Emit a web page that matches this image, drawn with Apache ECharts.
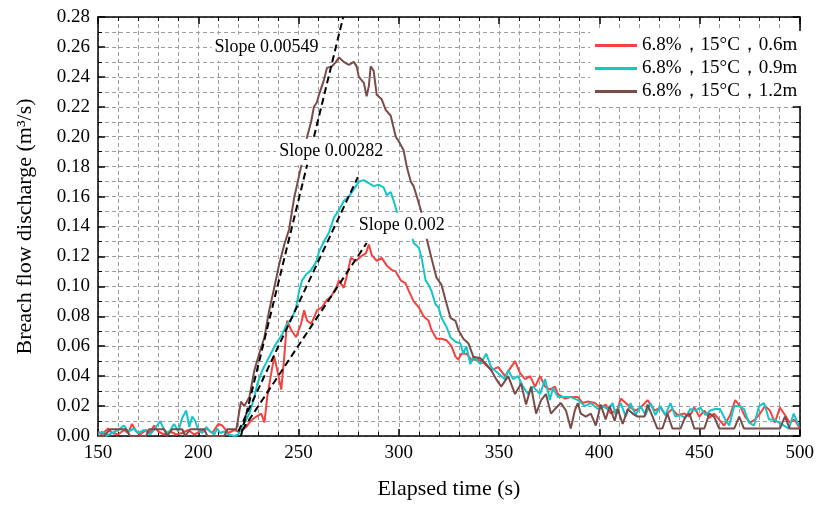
<!DOCTYPE html>
<html>
<head>
<meta charset="utf-8">
<script src="https://cdn.jsdelivr.net/npm/echarts@6/dist/echarts.min.js"></script>
<style>
html,body{margin:0;padding:0;background:#fff;}
#c{width:817px;height:505px;}
</style>
</head>
<body>
<div id="c"></div>
<script>
// ---- data ----
const seriesNames = ['6.8%，15°C，0.6m', '6.8%，15°C，0.9m', '6.8%，15°C，1.2m'];

const redT = [150,152,155,157,160,163,165,167,169,171,174,176,178,180,183,186,189,192,195,198,201,204,207,210,212,215,218,220,222,224,225.5,227,229,231.4,233,234.4,236.4,237.9,239.4,241.4,242.9,244.3,246.3,248.8,251.3,252.8,254.3,256.3,257.7,259.2,261.7,264.2,266.2,268.7,270.2,272.6,274.1,276.1,278.6,281.1,283.6,285.1,286.5,289,291.5,294,296.5,298.5,301,303.4,305,307.4,310,312.4,314.9,316.3,318.8,321.3,323.8,326.3,328.3,329.7,331.2,333.7,336.2,339.7,343.1,346.1,349.6,353,356,358,360.5,363,365.5,368,370.5,373,375.4,377.9,379.4,382.9,385.8,389.3,391.8,394.3,397.8,400.7,403.2,405.7,409.2,410.7,413.2,415.6,418.1,420.6,424.1,427.6,430.5,433,436.5,439,442.5,445,447.4,449.9,452.4,454.9,457.3,459.8,462.3,465.3,467.8,470.3,472.7,475.2,477.7,480.2,482.7,485.1,487.6,490.1,492.6,495,497.5,500];
const redQ = [0.003,0.001,0.005,0.002,0.001,0.004,0.002,0.008,0.003,0.001,0.004,0.002,0.007,0.003,0.001,0.003,0.001,0.002,0.004,0.001,0.003,0.005,0.002,0.008,0.007,0.002,0.004,0.003,0.004,0.006,0.009,0.011,0.013,0.015,0.009,0.026,0.042,0.053,0.044,0.031,0.053,0.077,0.071,0.066,0.075,0.084,0.077,0.075,0.079,0.084,0.086,0.091,0.093,0.099,0.104,0.099,0.107,0.119,0.117,0.120,0.122,0.128,0.121,0.117,0.119,0.114,0.111,0.110,0.104,0.102,0.097,0.090,0.086,0.080,0.077,0.071,0.065,0.065,0.064,0.060,0.053,0.051,0.055,0.055,0.051,0.051,0.048,0.044,0.046,0.040,0.046,0.050,0.042,0.038,0.040,0.033,0.040,0.033,0.031,0.033,0.028,0.025,0.026,0.026,0.022,0.023,0.022,0.019,0.021,0.015,0.018,0.025,0.022,0.019,0.017,0.019,0.024,0.017,0.019,0.014,0.018,0.014,0.015,0.013,0.019,0.013,0.017,0.012,0.015,0.011,0.007,0.014,0.024,0.020,0.013,0.009,0.011,0.015,0.020,0.017,0.009,0.019,0.014,0.009,0.011,0.005];

const cyanT = [150,152,154,157,160,163,165,168,170,173,176,179,181,183,185,188,190,192,194,195.5,197,198.5,200,202,204,206,208,209.5,211,213,215,218,220,222,223.5,225.5,228,229.5,232,235.4,238.9,241.9,244.3,246.8,248.8,250.3,251.8,253.8,256.3,258.7,260.2,262.7,265.2,267.7,270.2,272.6,275.1,277.6,280.1,282.6,285,287.5,290,292.5,294,296,297.5,299,301,303.5,306,307.4,310,311.4,313.4,314.9,316.3,318.3,319.8,321.3,323.8,325.8,328.3,330.7,332.2,333.7,335.7,337.2,340.7,343.6,346.1,349.6,353,354.6,357,359.5,362,364.5,367,370.5,373,375.4,376.9,379.4,382.9,385.8,389.3,392.8,395.8,399.3,401.7,404.2,406.7,408.2,410.7,413.2,415.6,418.1,420.6,423.1,425.6,428,430.5,433,435.5,438,440.5,443,445.4,447.9,450.4,452.9,455.4,457.8,460.3,462.8,464.8,467.3,469.8,472.2,474.7,477.2,479.7,482.2,484.7,487.1,489.6,492.1,494.6,497,499.5];
const cyanQ = [0.001,0.003,0.000,0.002,0.004,0.007,0.003,0.005,0.002,0.004,0.001,0.006,0.010,0.004,0.002,0.008,0.003,0.012,0.017,0.006,0.013,0.010,0.004,0.002,0.006,0.003,0.001,0.005,0.002,0.003,0.001,0.000,0.001,0.007,0.010,0.015,0.026,0.035,0.044,0.053,0.062,0.068,0.075,0.079,0.086,0.097,0.104,0.108,0.111,0.116,0.123,0.130,0.136,0.146,0.151,0.157,0.160,0.165,0.170,0.171,0.169,0.167,0.168,0.166,0.161,0.163,0.157,0.150,0.146,0.141,0.137,0.129,0.126,0.119,0.104,0.101,0.097,0.088,0.086,0.079,0.073,0.066,0.063,0.062,0.055,0.060,0.048,0.053,0.048,0.055,0.046,0.042,0.038,0.044,0.038,0.040,0.033,0.028,0.033,0.028,0.038,0.024,0.032,0.026,0.026,0.026,0.024,0.020,0.022,0.018,0.020,0.018,0.022,0.014,0.022,0.013,0.022,0.014,0.020,0.014,0.022,0.014,0.020,0.014,0.022,0.013,0.014,0.012,0.018,0.017,0.019,0.014,0.017,0.018,0.018,0.011,0.007,0.020,0.020,0.018,0.009,0.007,0.020,0.022,0.011,0.011,0.009,0.007,0.005,0.015,0.007];

const brownT = [150,153,156,160,164,166,170,174,175.5,180,183,184.5,187,192,193.5,196,200,203,204.5,210,213,214.5,219,221.3,223,225.5,228,230.4,233,235.4,237.9,240.4,242.9,245.3,247.8,250.3,251.8,254.3,256.3,257.7,259.2,260.2,262.7,264.2,266.7,268.7,270.2,271.1,272.6,275.1,277.6,279,280.1,282.6,284,285.1,286,287.5,289,291.5,293.5,296,298.5,300,302.4,304,306,307.4,309,311,312.5,313.9,316.3,318.8,321.3,323.3,325.8,328.3,329.7,332.2,334.7,337.2,340.7,343.6,346.1,348.6,351.1,354.6,358,361,363.5,366,368.5,371,373.4,375.9,377.9,380.9,383.4,385.8,387.8,389.3,390.8,393.3,395.8,398.3,400.7,403.2,405.2,407.7,409.2,411.7,414.2,416.6,419.1,422.6,424.1,426.6,429,431.5,434,436.5,440.5,443,445,447.4,452.4,454.9,457.3,459.8,467.3,469.8,472.2,477.2,483.7,490.1,492.6,495,500];
const brownQ = [0.000,0.000,0.0045,0.0045,0.0045,0.000,0.000,0.000,0.0045,0.0045,0.0045,0.000,0.0045,0.0045,0.000,0.0045,0.0045,0.0045,0.000,0.000,0.000,0.0045,0.0045,0.023,0.020,0.026,0.044,0.055,0.066,0.084,0.099,0.115,0.128,0.138,0.159,0.174,0.183,0.200,0.210,0.220,0.223,0.228,0.238,0.246,0.247,0.250,0.253,0.253,0.250,0.248,0.250,0.247,0.240,0.236,0.227,0.234,0.247,0.244,0.228,0.225,0.218,0.214,0.200,0.197,0.191,0.180,0.170,0.167,0.160,0.151,0.142,0.132,0.119,0.106,0.101,0.091,0.079,0.077,0.071,0.065,0.062,0.053,0.052,0.048,0.044,0.038,0.033,0.040,0.028,0.035,0.021,0.033,0.015,0.024,0.028,0.015,0.018,0.022,0.017,0.005,0.017,0.022,0.015,0.013,0.015,0.007,0.021,0.011,0.020,0.010,0.018,0.008,0.018,0.015,0.013,0.013,0.021,0.013,0.005,0.005,0.015,0.005,0.005,0.013,0.015,0.005,0.005,0.015,0.013,0.005,0.005,0.013,0.005,0.005,0.005,0.005,0.013,0.005,0.005];

// fitted slope lines: [start t, start q], [end t, end q]
const fitBrown = [[221.3, 0.0], [272.3, 0.28]];
const fitCyan  = [[220.0, 0.003], [279.6, 0.173]];
const fitRed   = [[222.0, 0.004], [284.0, 0.129]];

const slopeLabels = ['Slope 0.00549', 'Slope 0.00282', 'Slope 0.002'];
const slopeAnchors = [[206.6, 0.2595], [238.9, 0.190], [278.6, 0.1405]];

const xTicks = {min:150, max:500, interval:50};
const yTicks = {min:0, max:0.28, interval:0.02};

// ---- chart ----
const zip = (t, q) => t.map((v, i) => [v, q[i]]);
const FONT = '"Liberation Serif","Times New Roman",serif';
const colors = ['#f5413f', '#13c6c9', '#7b4b4a'];
const gridLine = {show:true, lineStyle:{color:'#9c9c9c', width:1, type:[4,3]}};

const chart = echarts.init(document.getElementById('c'), null, {renderer:'canvas'});

function mainAxisX(pos, showLabel) {
  return {
    type:'value', position:pos, min:xTicks.min, max:xTicks.max, interval:xTicks.interval,
    axisLine:{show:true, onZero:false, lineStyle:{color:'#000', width:1.5}},
    axisTick:{show:true, inside:true, length:7, lineStyle:{color:'#000', width:1.5}},
    minorTick:{show:true, splitNumber:5, length:4, lineStyle:{color:'#000', width:1}},
    splitLine: showLabel ? gridLine : {show:false},
    minorSplitLine: showLabel ? gridLine : {show:false},
    axisLabel:{show:showLabel, color:'#000', fontFamily:FONT, fontSize:19, margin:8},
    name: showLabel ? 'Elapsed time (s)' : '',
    nameLocation:'middle', nameGap:42,
    nameTextStyle:{color:'#000', fontFamily:FONT, fontSize:22}
  };
}
function mainAxisY(pos, showLabel) {
  return {
    type:'value', position:pos, min:yTicks.min, max:yTicks.max, interval:yTicks.interval,
    axisLine:{show:true, onZero:false, lineStyle:{color:'#000', width:1.5}},
    axisTick:{show:true, inside:true, length:7, lineStyle:{color:'#000', width:1.5}},
    minorTick:{show:true, splitNumber:2, length:4, lineStyle:{color:'#000', width:1}},
    splitLine: showLabel ? gridLine : {show:false},
    minorSplitLine: showLabel ? gridLine : {show:false},
    axisLabel:{show:showLabel, color:'#000', fontFamily:FONT, fontSize:19, margin:8,
      formatter: v => v.toFixed(2)},
    name: showLabel ? 'Breach flow discharge (m³/s)' : '',
    nameLocation:'middle', nameGap:62, nameRotate:90,
    nameTextStyle:{color:'#000', fontFamily:FONT, fontSize:22}
  };
}

const dataSeries = [[redT, redQ], [cyanT, cyanQ], [brownT, brownQ]].map((d, i) => ({
  name: seriesNames[i], type:'line', data: zip(d[0], d[1]),
  showSymbol:false, symbol:'none', color: colors[i],
  lineStyle:{width:2, color: colors[i]}, z: 2 + i * 0.1, animation:false
}));
const fitSeries = [fitBrown, fitCyan, fitRed].map(f => ({
  type:'line', data:f, showSymbol:false, symbol:'none', silent:true,
  lineStyle:{color:'#000', width:2, type:[7,4]}, z:5, animation:false
}));

chart.setOption({
  backgroundColor:'#fff',
  animation:false,
  grid:{left:98, right:13, top:17, bottom:65, containLabel:false},
  xAxis:[mainAxisX('bottom', true), mainAxisX('top', false)],
  yAxis:[mainAxisY('left', true), mainAxisY('right', false)],
  legend:{
    data: seriesNames, orient:'vertical', left:590, top:31,
    backgroundColor:'#fff', padding:[5,6,5,5], itemGap:4,
    itemWidth:42, itemHeight:3, icon:'rect',
    textStyle:{color:'#000', fontFamily:FONT, fontSize:19}
  },
  series: dataSeries.concat(fitSeries)
});

// annotation labels anchored in data space
const graphics = slopeLabels.map((txt, i) => {
  const p = chart.convertToPixel({xAxisIndex:0, yAxisIndex:0}, slopeAnchors[i]);
  return {
    type:'text', x:p[0], y:p[1], z:100,
    style:{text:txt, fill:'#000', font:'18px ' + FONT, backgroundColor:'#fff',
      padding:[4,3,4,3], verticalAlign:'middle', align:'left'}
  };
});
chart.setOption({graphic:graphics});
</script>
</body>
</html>
